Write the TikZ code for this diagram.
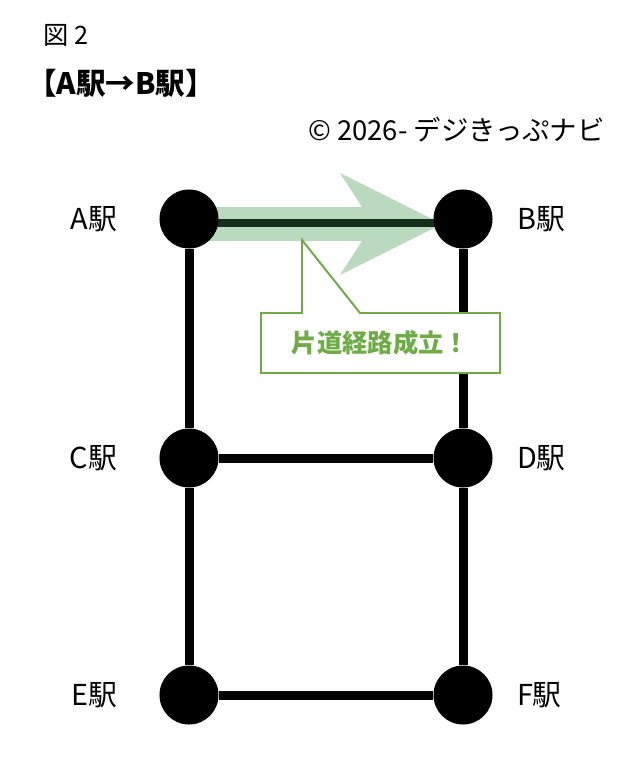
\documentclass[tikz,border=0pt]{standalone}
\usepackage{fontspec}
\setmainfont{Noto Sans CJK JP}
\usetikzlibrary{positioning,backgrounds}
\definecolor{routegreen}{HTML}{B9DABE}
\definecolor{ridegreen}{HTML}{15301A}
\definecolor{notegreen}{HTML}{6EAD45}
\begin{document}
\begin{tikzpicture}[
    x=0.025cm, y=-0.025cm,
    station/.style={
        circle,
        fill=black,
        minimum size=1.475cm,
        inner sep=0pt
    },
    track/.style={line width=6.4pt, draw=black},
    ridden/.style={line width=6pt, draw=ridegreen},
    stname/.style={inner sep=0pt, font=\fontsize{20.5}{22}\selectfont},
    balloon/.style={draw=notegreen, line width=1.4pt, fill=white},
    msg/.style={inner sep=0pt, text=notegreen, font=\fontsize{18}{20}\selectfont\bfseries}
]
    \useasboundingbox (0,0) rectangle (640,774);

    \node[anchor=west, inner sep=0pt, font=\fontsize{18}{20}\selectfont] (fig) at (43,35)
        {図 2};
    \node[anchor=west, inner sep=0pt, font=\fontsize{21}{23}\selectfont\bfseries] (title) at (27,83)
        {【A駅→B駅】};
    \node[anchor=east, inner sep=0pt, font=\fontsize{19.5}{21}\selectfont] (copy) at (605,130)
        {© 2026- デジきっぷナビ};

    \node[station] (A) at (189,219) {};
    \node[station] (B) at (463,219) {};
    \node[station] (C) at (189,458) {};
    \node[station] (D) at (463,458) {};
    \node[station] (E) at (189,695) {};
    \node[station] (F) at (463,695) {};

    \node[stname, left=1.05cm of A] (Alab) {A駅};
    \node[stname, right=0.6cm of B] (Blab) {B駅};
    \node[stname, left=1.05cm of C] (Clab) {C駅};
    \node[stname, right=0.6cm of D] (Dlab) {D駅};
    \node[stname, left=1.05cm of E] (Elab) {E駅};
    \node[stname, right=0.6cm of F] (Flab) {F駅};

    \begin{scope}[on background layer]
        \fill[routegreen] (189,207) -- (362,207) -- (340,173) -- (442,224)
            -- (340,275) -- (362,241) -- (189,241) -- cycle;
        \draw[ridden] ([yshift=-1mm]A.center) -- ([yshift=-1mm]B.center);
    \end{scope}

    \draw[track] (A) -- (C);
    \draw[track] (C) -- (E);
    \draw[track] (B) -- (D);
    \draw[track] (D) -- (F);
    \draw[track] (C) -- (D);
    \draw[track] (E) -- (F);

    \coordinate (tip) at (302,240);
    \draw[balloon] (261,313) -- (302,313) -- (tip) -- (360,313)
        -- (500,313) -- (500,373) -- (261,373) -- cycle;
    \node[msg] (note) at (380.5,343) {片道経路成立！};
\end{tikzpicture}
\end{document}
